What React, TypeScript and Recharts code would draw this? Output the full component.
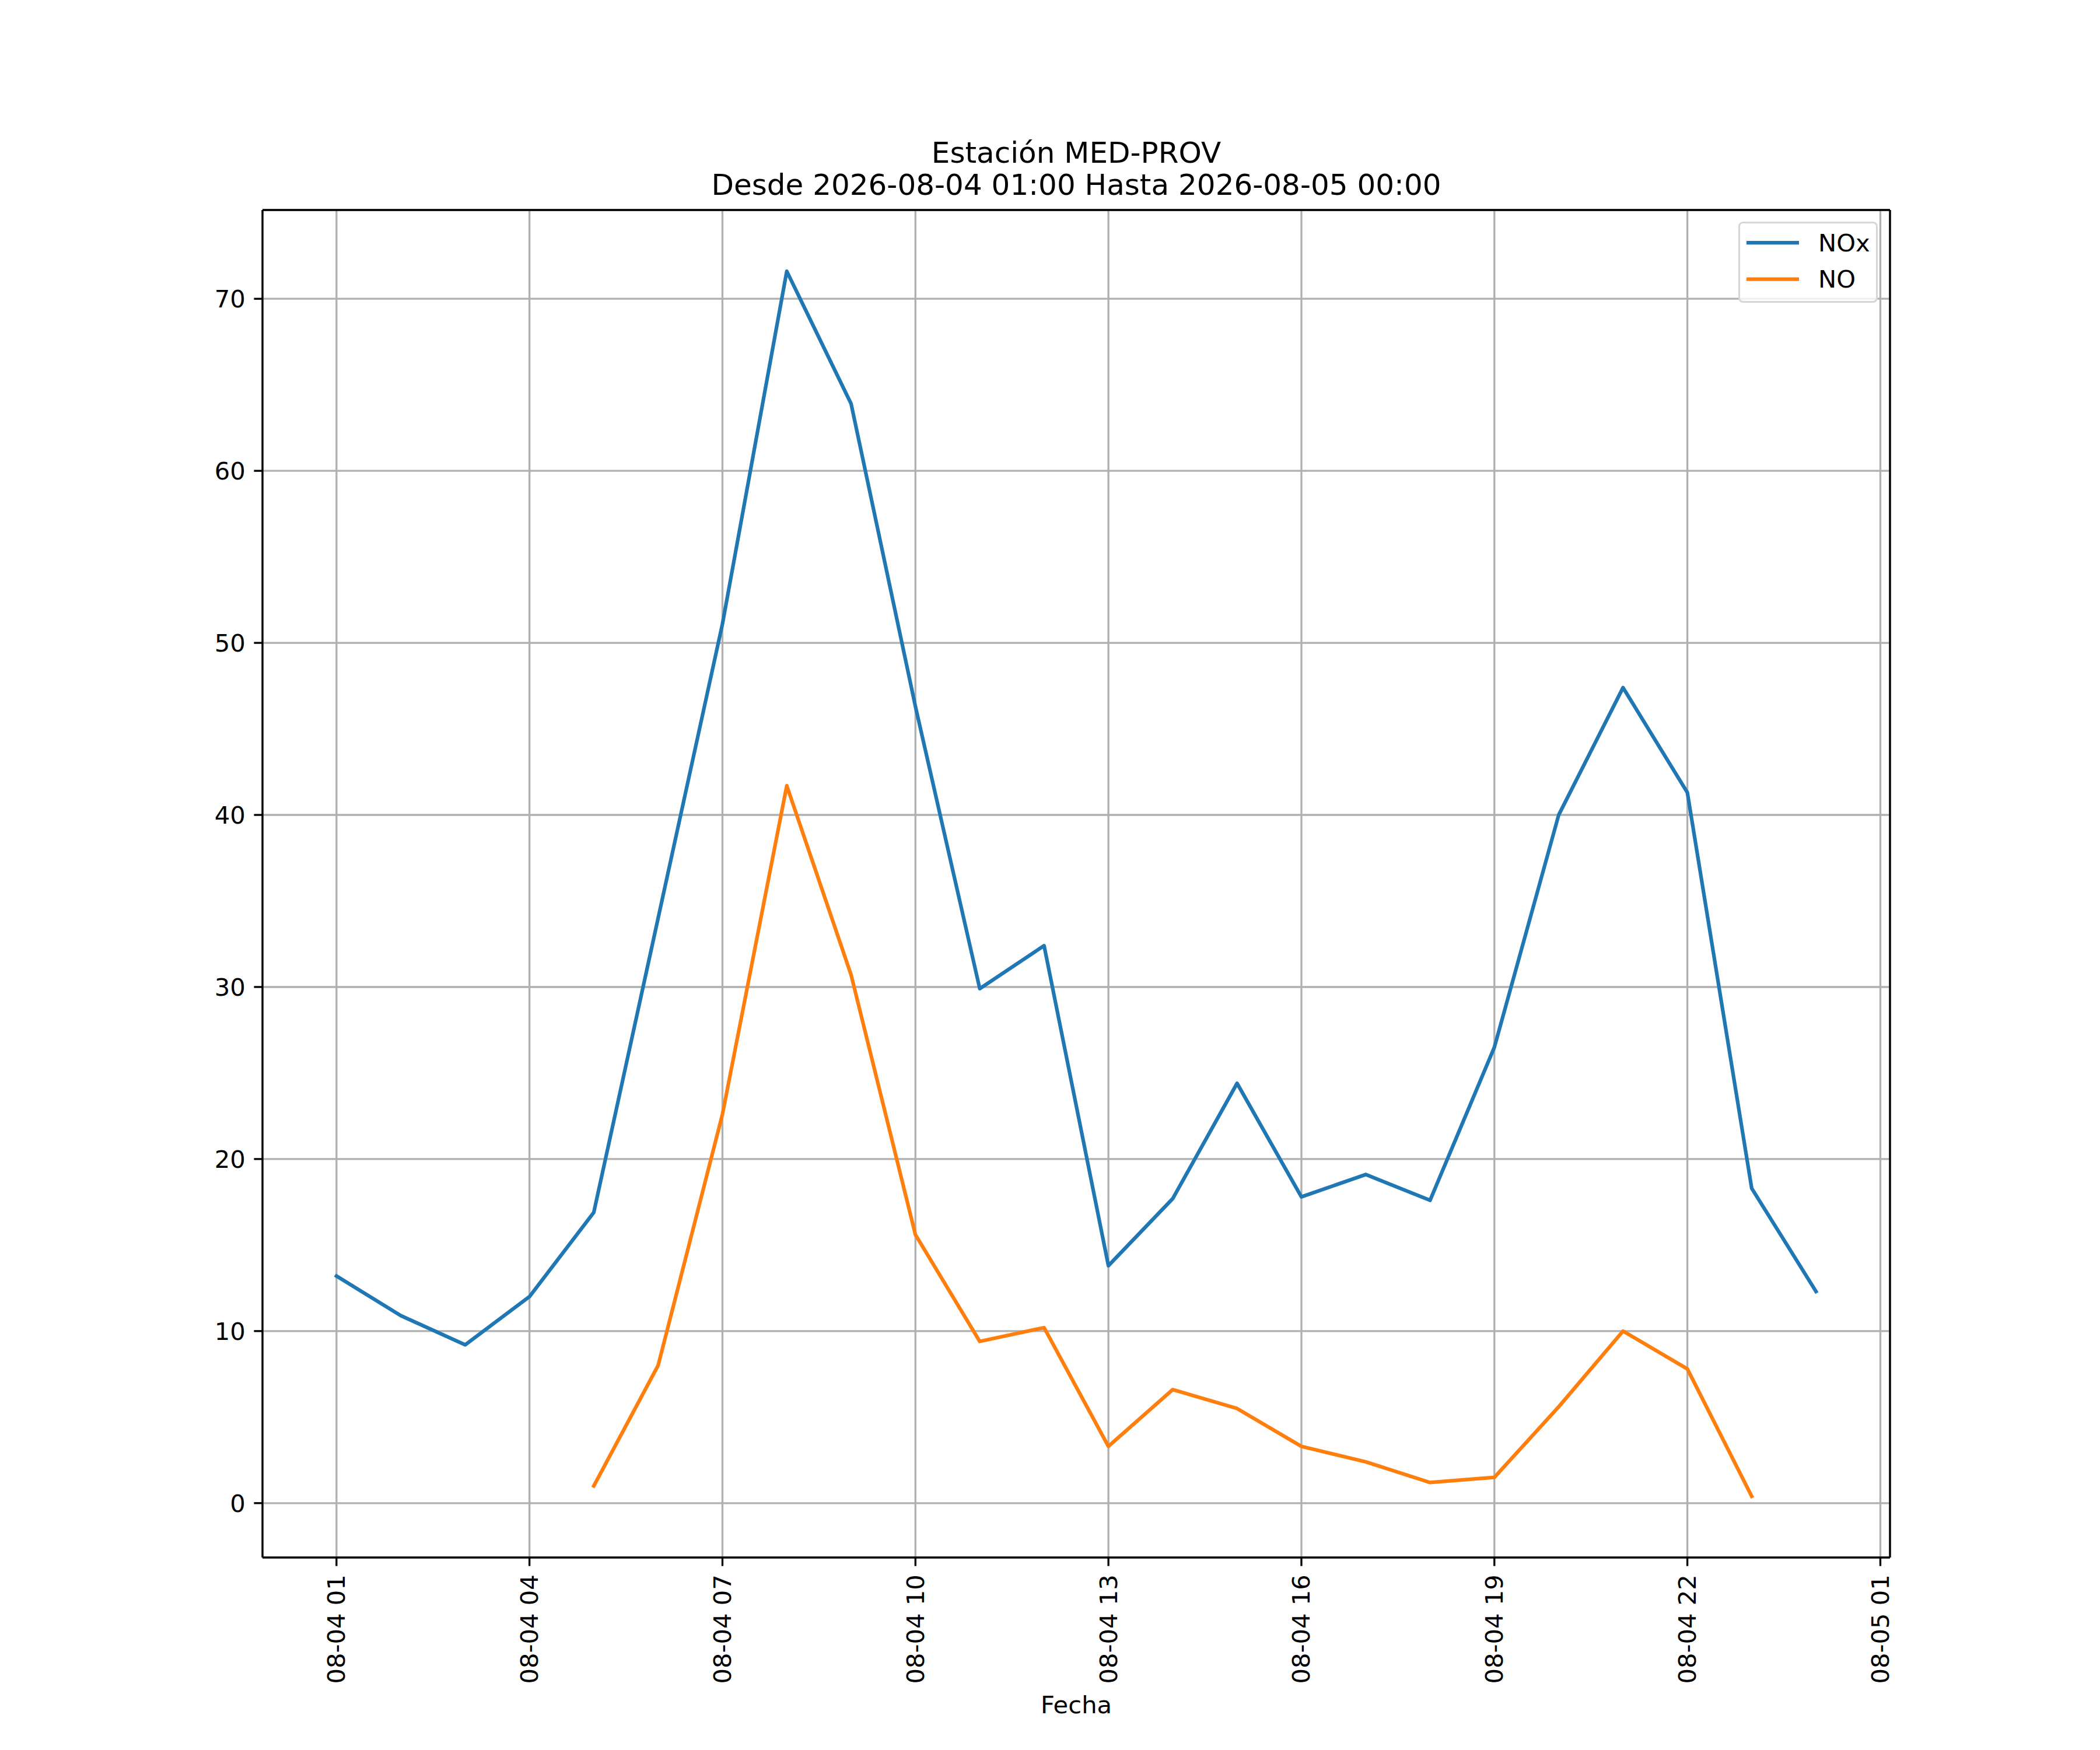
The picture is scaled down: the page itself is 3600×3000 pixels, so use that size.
import { LineChart, Line, XAxis, YAxis, CartesianGrid, Legend, ReferenceLine } from 'recharts';

// hourly readings, station MED-PROV
const TIMES = [
  '2026-08-04T01:00', '2026-08-04T02:00', '2026-08-04T03:00', '2026-08-04T04:00',
  '2026-08-04T05:00', '2026-08-04T06:00', '2026-08-04T07:00', '2026-08-04T08:00',
  '2026-08-04T09:00', '2026-08-04T10:00', '2026-08-04T11:00', '2026-08-04T12:00',
  '2026-08-04T13:00', '2026-08-04T14:00', '2026-08-04T15:00', '2026-08-04T16:00',
  '2026-08-04T17:00', '2026-08-04T18:00', '2026-08-04T19:00', '2026-08-04T20:00',
  '2026-08-04T21:00', '2026-08-04T22:00', '2026-08-04T23:00', '2026-08-05T00:00',
];
const NOX = [
  13.2, 10.9, 9.2, 12.0, 16.9, 34.0, 51.1, 71.6, 63.9, 46.3, 29.9, 32.4,
  13.8, 17.7, 24.4, 17.8, 19.1, 17.6, 26.5, 40.0, 47.4, 41.3, 18.3, 12.3,
];
const NO = [
  null, null, null, null, 1.0, 8.0, 22.6, 41.7, 30.7, 15.6, 9.4, 10.2,
  3.3, 6.6, 5.5, 3.3, 2.4, 1.2, 1.5, 5.6, 10.0, 7.8, 0.4, null,
];
const SERIES = ['NOx', 'NO'];
const X_TICKS = [
  '2026-08-04T01:00', '2026-08-04T04:00', '2026-08-04T07:00', '2026-08-04T10:00',
  '2026-08-04T13:00', '2026-08-04T16:00', '2026-08-04T19:00', '2026-08-04T22:00',
  '2026-08-05T01:00',
];
const X_TICK_LABELS = [
  '08-04 01', '08-04 04', '08-04 07', '08-04 10', '08-04 13',
  '08-04 16', '08-04 19', '08-04 22', '08-05 01',
];
const Y_TICKS = [0, 10, 20, 30, 40, 50, 60, 70];

const FONT = 'DejaVu Sans';
const FS = 41.67;
const LW = 3.33;

const toMs = (s: string) => new Date(s).getTime();

const data = TIMES.map((t, i) => ({ t: toMs(t), NOx: NOX[i], NO: NO[i] }));
const tickMs = X_TICKS.map(toMs);

// matplotlib-like 5% autoscale margins
const xs = data.map((d) => d.t);
const xPad = (Math.max(...xs) - Math.min(...xs)) * 0.05;
const xDomain = [Math.min(...xs) - xPad, Math.max(...xs) + xPad];
const ys = [...NOX, ...NO].filter((v) => v !== null) as number[];
const yPad = (Math.max(...ys) - Math.min(...ys)) * 0.05;
const yDomain = [Math.min(...ys) - yPad, Math.max(...ys) + yPad];

function XTick({ x, y, payload }: any) {
  const idx = tickMs.indexOf(payload.value);
  return (
    <text
      x={x}
      y={y}
      transform={`rotate(-90 ${x} ${y})`}
      textAnchor="end"
      dominantBaseline="central"
      fontFamily={FONT}
      fontSize={FS}
      fill="#000"
    >
      {X_TICK_LABELS[idx]}
    </text>
  );
}

function LegendBox({ payload }: any) {
  const items = [...(payload || [])].sort(
    (a: any, b: any) => SERIES.indexOf(a.value) - SERIES.indexOf(b.value)
  );
  return (
    <div
      style={{
        width: 239,
        height: 139,
        boxSizing: 'border-box',
        border: `${LW}px solid #d6d6d6`,
        borderRadius: 8,
        background: 'rgba(255,255,255,0.8)',
      }}
    >
      <svg width={232} height={132} style={{ display: 'block' }}>
        {items.map((p: any, i: number) => {
          const cy = 33 + i * 62.7;
          return (
            <g key={p.value}>
              <line x1={11} x2={101} y1={cy} y2={cy} stroke={p.color} strokeWidth={6.25} />
              <text x={134} y={cy} dominantBaseline="central" fontFamily={FONT} fontSize={FS} fill="#000">
                {p.value}
              </text>
            </g>
          );
        })}
      </svg>
    </div>
  );
}

export default function App() {
  return (
    <div style={{ position: 'absolute', left: 0, top: 0, width: 3600, height: 3000, background: '#fff' }}>
      <LineChart width={3600} height={3000} data={data} margin={{ top: 360, right: 360, left: 350, bottom: 230 }}>
        <CartesianGrid stroke="#b0b0b0" strokeWidth={LW} />
        <XAxis
          dataKey="t"
          type="number"
          domain={xDomain}
          ticks={tickMs}
          allowDataOverflow
          height={100}
          tickSize={14.6}
          tickMargin={14.6}
          axisLine={{ stroke: '#000', strokeWidth: LW }}
          tickLine={{ stroke: '#000', strokeWidth: LW }}
          tick={<XTick />}
          interval={0}
        />
        <YAxis
          type="number"
          domain={yDomain}
          ticks={Y_TICKS}
          allowDataOverflow
          width={100}
          tickSize={14.6}
          tickMargin={14.6}
          axisLine={{ stroke: '#000', strokeWidth: LW }}
          tickLine={{ stroke: '#000', strokeWidth: LW }}
          tick={{ fontFamily: FONT, fontSize: FS, fill: '#000' }}
          interval={0}
        />
        <ReferenceLine y={yDomain[1]} stroke="#000" strokeWidth={LW} />
        <ReferenceLine x={xDomain[1]} stroke="#000" strokeWidth={LW} />
        <Line
          type="linear"
          dataKey="NOx"
          name="NOx"
          stroke="#1f77b4"
          strokeWidth={6.25}
          strokeLinejoin="round"
          strokeLinecap="square"
          dot={false}
          isAnimationActive={false}
        />
        <Line
          type="linear"
          dataKey="NO"
          name="NO"
          stroke="#ff7f0e"
          strokeWidth={6.25}
          strokeLinejoin="round"
          strokeLinecap="square"
          dot={false}
          isAnimationActive={false}
        />
        <Legend
          layout="vertical"
          align="center"
          verticalAlign="middle"
          wrapperStyle={{ left: 2980, top: 380, width: 239, height: 139 }}
          content={<LegendBox />}
        />
      </LineChart>
      <svg
        width={3600}
        height={3000}
        style={{ position: 'absolute', left: 0, top: 0, pointerEvents: 'none' }}
        fontFamily={FONT}
      >
        <text x={1845} y={279} textAnchor="middle" fontSize={50} fill="#000">
          Estación MED-PROV
        </text>
        <text x={1845} y={334} textAnchor="middle" fontSize={50} fill="#000">
          Desde 2026-08-04 01:00 Hasta 2026-08-05 00:00
        </text>
        <text x={1845} y={2937} textAnchor="middle" fontSize={FS} fill="#000">
          Fecha
        </text>
      </svg>
    </div>
  );
}
